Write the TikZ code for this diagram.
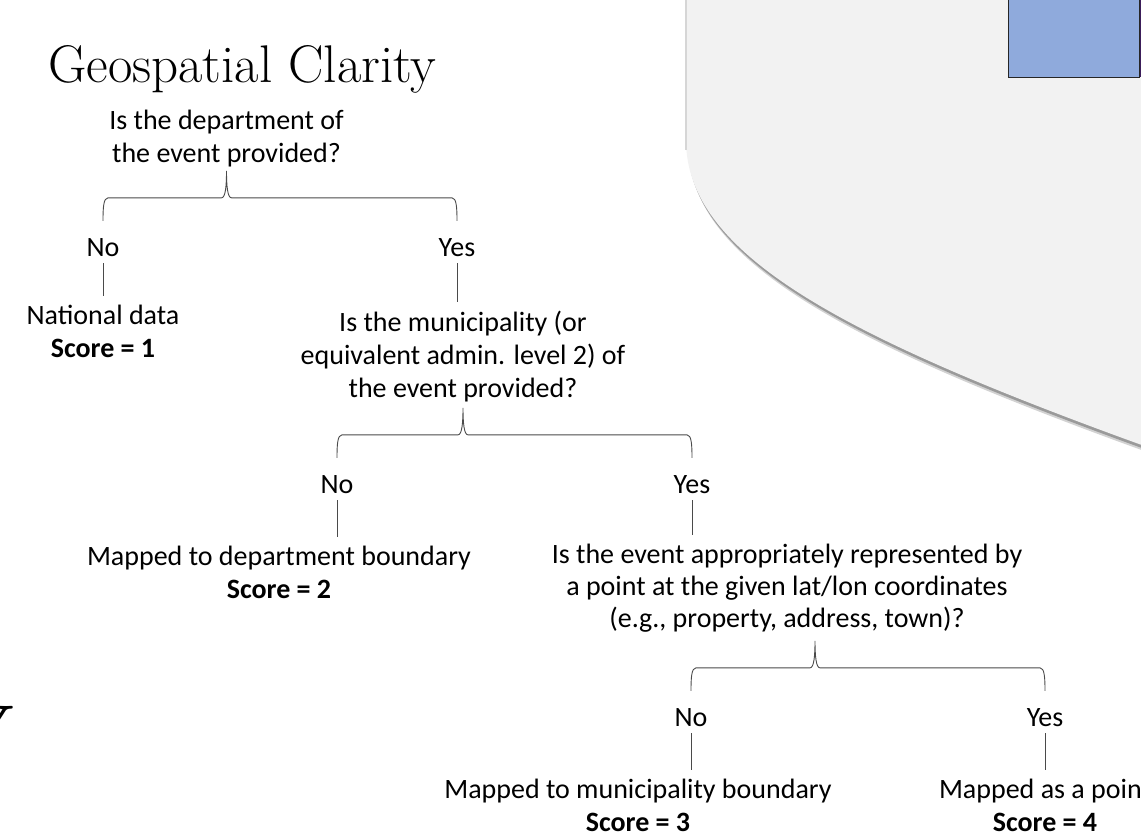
\documentclass[tikz,border=0pt]{standalone}
\usepackage{fontspec}
\usepackage{tikz}
\usetikzlibrary{calc}
\newfontfamily\bodyfont{Carlito}
\definecolor{panelgray}{HTML}{F2F2F2}
\definecolor{shadowgray}{HTML}{9A9A9A}
\definecolor{edgegray}{HTML}{D6D6D6}
\definecolor{boxblue}{HTML}{8FAADC}
\definecolor{boxpurple}{HTML}{3C1E5A}
\definecolor{linegray}{HTML}{4A4A4A}

\tikzset{
  qtext/.style={align=center, inner sep=0pt, anchor=base,
    font=\bodyfont\fontsize{28}{33}\selectfont},
  answer/.style={qtext},
  result/.style={qtext},
  branch/.style={draw=linegray, line width=0.9pt},
  stem/.style={branch, shorten <=7pt, shorten >=8pt},
}

% brace from the question (tip x) down to the two answers
\newcommand{\splitbrace}[3]{%
  \coordinate (lend) at ($(#2.north)+(0,-17)$);
  \coordinate (rend) at ($(#3.north)+(0,-17)$);
  \coordinate (bar) at ($(#2.north)+(0,-40)$);
  \coordinate (lbar) at (lend |- bar);
  \coordinate (rbar) at (rend |- bar);
  \coordinate (tbar) at (#1 |- bar);
  \coordinate (tip) at ($(tbar)+(0,-27)$);
  \draw[branch] (lend) .. controls ($(lbar)+(0,10)$) and ($(lbar)+(0.5,0)$) .. ($(lbar)+(5,0)$)
    -- ($(tbar)+(-5,0)$) .. controls ($(tbar)+(-1,0)$) and ($(tip)+(0,15)$) .. (tip)
    .. controls ($(tip)+(0,15)$) and ($(tbar)+(1,0)$) .. ($(tbar)+(5,0)$)
    -- ($(rbar)+(-5,0)$) .. controls ($(rbar)+(-0.5,0)$) and ($(rbar)+(0,10)$) .. (rend);
}

\newcommand{\panelpath}{(686,-20) -- (686,140) .. controls (686,255) and (845,338) .. (1150,448) -- (1160,448) -- (1160,-20) -- cycle}

\begin{document}
\begin{tikzpicture}[x=1pt, y=-1pt]
    \useasboundingbox (0,0) rectangle (1141,840);
    \clip (0,0) rectangle (1141,840);

    % Background panel
    \fill[shadowgray!45, shift={(2.5,6)}] \panelpath;
    \fill[shadowgray, shift={(1.5,3.5)}] \panelpath;
    \fill[panelgray] \panelpath;
    \draw[edgegray, line width=1.4pt] (686,-20) -- (686,150);
    \draw[fill=boxblue, draw=black!85, line width=0.9pt] (1008,-2) rectangle (1139,77);
    \draw[boxpurple, line width=1.3pt] (1140.4,-2) -- (1140.4,77);

    % Title
    \node[anchor=base west, inner sep=0pt, font=\fontsize{53}{53}\selectfont] (title) at (48,83) {Geospatial Clarity};
    \node[anchor=north east, inner sep=0pt, font=\fontsize{60}{60}\selectfont\bfseries\itshape] (vmark) at (7,706) {V};

    % Level 1 (base = last line)
    \node[qtext] (q1) at (226.5,163) {Is the department of\\the event provided?};
    \node[answer] (no1) at (103,256) {No};
    \node[answer] (yes1) at (457,256) {Yes};
    \node[result] (res1) at (103,357) {National data\\\textbf{Score = 1}};
    \splitbrace{q1.south}{no1}{yes1}
    \draw[stem] (no1.south) -- (no1.south |- res1.north);

    % Level 2
    \node[qtext] (q2) at (463,397) {Is the municipality (or\\equivalent admin. level 2) of\\the event provided?};
    \draw[stem] (yes1.south) -- (yes1.south |- q2.north);
    \node[answer] (no2) at (337,493) {No};
    \node[answer] (yes2) at (692,493) {Yes};
    \node[result] (res2) at (279,598) {Mapped to department boundary\\\textbf{Score = 2}};
    \splitbrace{q2.south}{no2}{yes2}
    \draw[stem] (no2.south) -- (no2.south |- res2.north);

    % Level 3
    \node[qtext, font=\bodyfont\fontsize{28}{32}\selectfont] (q3) at (787,627) {Is the event appropriately represented by\\a point at the given lat/lon coordinates\\(e.g., property, address, town)?};
    \draw[stem] (yes2.south) -- (yes2.south |- q3.north);
    \node[answer] (no3) at (691,726) {No};
    \node[answer] (yes3) at (1045,726) {Yes};
    \node[result] (res3) at (638,831) {Mapped to municipality boundary\\\textbf{Score = 3}};
    \node[result] (res4) at (1045,831) {Mapped as a point\\\textbf{Score = 4}};
    \coordinate (q3tip) at ($(q3.south)+(28,0)$);
    \splitbrace{q3tip}{no3}{yes3}
    \draw[stem] (no3.south) -- (no3.south |- res3.north);
    \draw[stem] (yes3.south) -- (yes3.south |- res4.north);
\end{tikzpicture}
\end{document}
